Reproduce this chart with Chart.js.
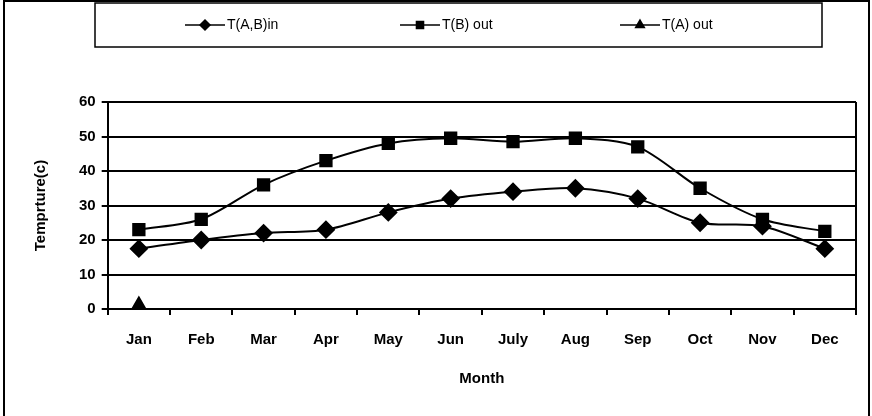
<!DOCTYPE html>
<html>
<head>
<meta charset="utf-8">
<script src="https://cdn.jsdelivr.net/npm/chart.js@4.4.1/dist/chart.umd.min.js"></script>
<style>
  html, body { margin: 0; padding: 0; background: #fff; }
  #wrap { width: 872px; height: 416px; }
</style>
</head>
<body>
<div id="wrap"><canvas id="chart1" width="872" height="416"></canvas></div>
<script>
const months = ["Jan", "Feb", "Mar", "Apr", "May", "Jun", "July", "Aug", "Sep", "Oct", "Nov", "Dec"]
const tInAB = [17.5, 20, 22, 23, 28, 32, 34, 35, 32, 25, 24, 17.5]
const tOutB = [23, 26, 36, 43, 48, 49.5, 48.5, 49.5, 47, 35, 26, 22.5]
const tOutA = [1, null, null, null, null, null, null, null, null, null, null, null]
const seriesNames = ["T(A,B)in", "T(B) out", "T(A) out"]
const yTicks = [0, 10, 20, 30, 40, 50, 60]

const FONT = "'Liberation Sans', Arial, sans-serif"

// draws the boxed legend + page frame + right border of the plot
const boxLegend = {
  id: 'boxLegend',
  afterDraw(chart) {
    const ctx = chart.ctx
    const area = chart.chartArea
    ctx.save()
    ctx.strokeStyle = '#000'
    ctx.lineWidth = 2
    // frame
    ctx.beginPath()
    ctx.moveTo(4, 416); ctx.lineTo(4, 1); ctx.lineTo(869, 1); ctx.lineTo(869, 416)
    ctx.stroke()
    // plot right edge
    ctx.beginPath()
    ctx.moveTo(area.right, area.top); ctx.lineTo(area.right, area.bottom)
    ctx.stroke()
    // legend box
    ctx.lineWidth = 1.5
    ctx.strokeRect(95, 3, 727, 44)
    const xs = [205, 420, 640]
    const styles = ['rectRot', 'rect', 'triangle']
    ctx.font = '14px ' + FONT
    ctx.textBaseline = 'middle'
    ctx.fillStyle = '#000'
    for (let i = 0; i < 3; i++) {
      const cx = xs[i], cy = 25
      ctx.lineWidth = 1.5
      ctx.beginPath()
      ctx.moveTo(cx - 20, cy); ctx.lineTo(cx + 20, cy)
      ctx.stroke()
      Chart.helpers.drawPoint(ctx, { pointStyle: styles[i], radius: 5, borderWidth: 1 }, cx, cy)
      ctx.fillText(seriesNames[i], cx + 22, cy)
    }
    ctx.restore()
  }
}

const dataChart1 = {
  labels: months,
  datasets: [
    {
      label: seriesNames[0],
      data: tInAB,
      pointStyle: 'rectRot',
      pointRadius: 8,
    },
    {
      label: seriesNames[1],
      data: tOutB,
      pointStyle: 'rect',
      pointRadius: 8,
    },
    {
      label: seriesNames[2],
      data: tOutA,
      pointStyle: 'triangle',
      pointRadius: 8,
    },
  ]
}
dataChart1.datasets.forEach(d => {
  d.borderColor = '#000'
  d.backgroundColor = '#000'
  d.pointBackgroundColor = '#000'
  d.borderWidth = 2
  d.tension = 0.3
})

const configChart1 = {
  type: 'line',
  data: dataChart1,
  options: {
    responsive: false,
    animation: false,
    layout: { padding: { top: 102, left: 28, right: 16, bottom: 24 } },
    plugins: {
      legend: { display: false },
      tooltip: { enabled: false },
    },
    scales: {
      x: {
        offset: true,
        grid: { display: true, drawOnChartArea: false, drawTicks: true, tickLength: 6, color: '#000', lineWidth: 2, offset: true },
        border: { color: '#000', width: 2 },
        ticks: { color: '#000', font: { family: FONT, size: 15, weight: 'bold' }, padding: 16 },
        title: { display: true, text: 'Month', color: '#000', font: { family: FONT, size: 15, weight: 'bold' }, padding: { top: 5 } },
      },
      y: {
        min: 0,
        max: 60,
        afterBuildTicks: axis => { axis.ticks = yTicks.map(v => ({ value: v })) },
        grid: { color: '#000', lineWidth: 2, tickLength: 6 },
        border: { color: '#000', width: 2 },
        ticks: { color: '#000', font: { family: FONT, size: 15, weight: 'bold' }, padding: 6 },
        title: { display: true, text: 'Temprture(c)', color: '#000', font: { family: FONT, size: 15, weight: 'bold' }, padding: { top: 4, bottom: 23 } },
      },
    },
  },
  plugins: [boxLegend],
}

const myChart1 = new Chart(document.getElementById('chart1'), configChart1)
</script>
</body>
</html>
